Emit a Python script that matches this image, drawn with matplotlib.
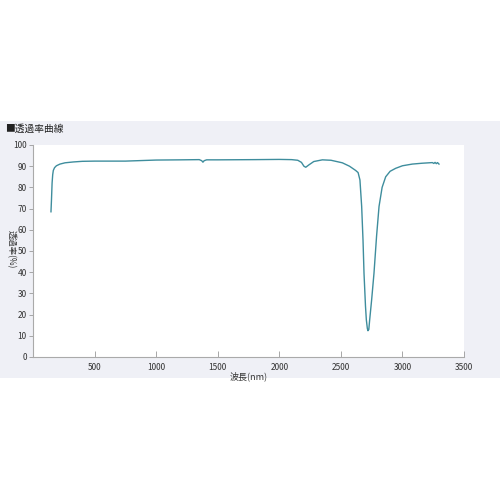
import matplotlib.pyplot as plt
from matplotlib.patches import Rectangle

plt.rcParams['font.family'] = ['Noto Sans CJK JP', 'DejaVu Sans']

# wavelength (nm) and transmittance (%)
wavelength = [146, 150, 155, 160, 165, 175, 190, 219, 260, 327, 400, 500, 600,
              750, 900, 1000, 1200, 1350, 1370, 1380, 1390, 1410, 1500, 1800,
              2000, 2100, 2150, 2180, 2200, 2215, 2240, 2280, 2350, 2420,
              2512, 2570, 2620, 2640, 2655, 2669, 2680, 2688, 2700, 2707,
              2715, 2720, 2727, 2734, 2750, 2769, 2790, 2810, 2835, 2864,
              2900, 2945, 3000, 3080, 3160, 3243, 3255, 3265, 3275, 3285,
              3297]
transmittance = [68.5, 74.0, 82.0, 86.0, 88.0, 89.3, 90.2, 91.0, 91.6, 92.0,
                 92.3, 92.4, 92.4, 92.4, 92.7, 92.9, 93.0, 93.1, 92.6, 91.9,
                 92.6, 93.0, 93.0, 93.1, 93.2, 93.1, 92.8, 91.8, 90.0, 89.5,
                 90.6, 92.2, 93.0, 92.8, 91.6, 90.0, 88.0, 87.0, 83.5, 71.0,
                 55.0, 39.5, 24.0, 17.5, 13.5, 12.4, 13.0, 17.5, 27.0, 39.5,
                 57.0, 71.0, 80.0, 85.0, 87.6, 89.0, 90.2, 91.0, 91.4, 91.7,
                 91.3, 91.8, 91.2, 91.7, 91.0]

x_ticks = [500, 1000, 1500, 2000, 2500, 3000, 3500]
y_ticks = [0, 10, 20, 30, 40, 50, 60, 70, 80, 90, 100]

fig = plt.figure(figsize=(5, 5), dpi=100)
fig.patch.set_facecolor('white')
fig.patches.append(Rectangle((0, 0.244), 1, 0.514, transform=fig.transFigure,
                             facecolor='#eff0f6', edgecolor='none', zorder=-5))

ax = fig.add_axes([0.066, 0.286, 0.862, 0.424])
ax.set_zorder(2)
ax.set_facecolor('white')
ax.plot(wavelength, transmittance, color='#3e8d9d', linewidth=1.0)

ax.set_xlim(0, 3500)
ax.set_ylim(0, 100)
ax.set_xticks(x_ticks)
ax.set_yticks(y_ticks)
ax.tick_params(axis='x', direction='in', length=4, width=0.6, color='#999999',
               labelsize=6, pad=4, labelcolor='#333333')
ax.tick_params(axis='y', direction='out', length=3, width=0.6, color='#999999',
               labelsize=6, pad=1.5, labelcolor='#333333')
for side in ['top', 'right']:
    ax.spines[side].set_visible(False)
for side in ['left', 'bottom']:
    ax.spines[side].set_color('#aaaaaa')
    ax.spines[side].set_linewidth(0.8)

ax.set_xlabel('波長(nm)', fontsize=6.5, labelpad=0, color='#333333')
fig.text(0.022, 0.502, '透過率(%)', fontsize=6, rotation=-90,
         ha='center', va='center', color='#333333', zorder=3)

fig.text(0.01, 0.743, '■透過率曲線', fontsize=7, color='#222222',
         va='center', ha='left', zorder=3)

fig.savefig('out.png', dpi=100)
